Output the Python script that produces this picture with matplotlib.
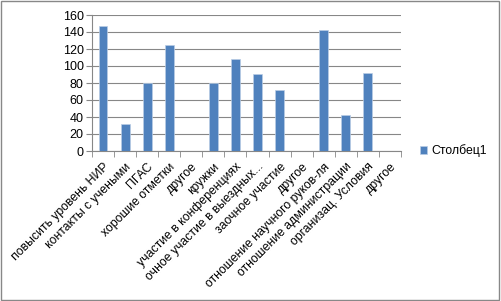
import matplotlib.pyplot as plt
import numpy as np

categories = ["повысить уровень НИР", "контакты с учеными", "ПГАС", "хорошие отметки",
              "другое", "кружки", "участие в конференциях", "очное участие в выездных...",
              "заочное участие", "другое", "отношение научного руков-ля",
              "отношение администрации", "организац. Условия", "другое"]
values = [147, 32, 80, 125, 0, 80, 108, 90, 72, 0, 142, 42, 92, 0]
series_name = "Столбец1"

plt.rcParams['font.family'] = ['Liberation Sans', 'DejaVu Sans']

fig = plt.figure(figsize=(5.01, 3.01), dpi=100)
ax = fig.add_axes([92 / 501, 1 - 151 / 301, 309 / 501, 136 / 301])

x = np.arange(len(categories))
ax.bar(x, values, width=0.4, color='#4F81BD', edgecolor='#B9CDE5', linewidth=0.5,
       label=series_name, zorder=3)

ax.set_xlim(-0.5, len(categories) - 0.5)
ax.set_ylim(0, 160)
ax.set_yticks(range(0, 161, 20))
ax.yaxis.grid(True, color='#878787', linewidth=0.8, zorder=0)

ax.set_xticks(x)
ax.set_xticklabels(categories, rotation=45, ha='right', va='top', rotation_mode='anchor',
                   fontsize=8.8)
ax.set_xticks(np.arange(-0.5, len(categories)), minor=True)
ax.tick_params(axis='x', which='major', length=0, pad=7)
ax.tick_params(axis='x', which='minor', length=4, color='#878787')
ax.tick_params(axis='y', length=4, color='#878787', labelsize=9, pad=2)

for s in ['top', 'right']:
    ax.spines[s].set_visible(False)
for s in ['left', 'bottom']:
    ax.spines[s].set_color('#878787')

ax.legend(loc='center left', bbox_to_anchor=(420 / 501, 1 - 151 / 301),
          bbox_transform=fig.transFigure, frameon=False, fontsize=8.8,
          borderaxespad=0, borderpad=0,
          handlelength=0.6, handleheight=0.6, handletextpad=0.3)

fig.patches.append(plt.Rectangle((0.002, 0.003), 0.995, 0.993, transform=fig.transFigure,
                                 fill=False, edgecolor='#888888', linewidth=1))

fig.savefig('out.png', dpi=100)
